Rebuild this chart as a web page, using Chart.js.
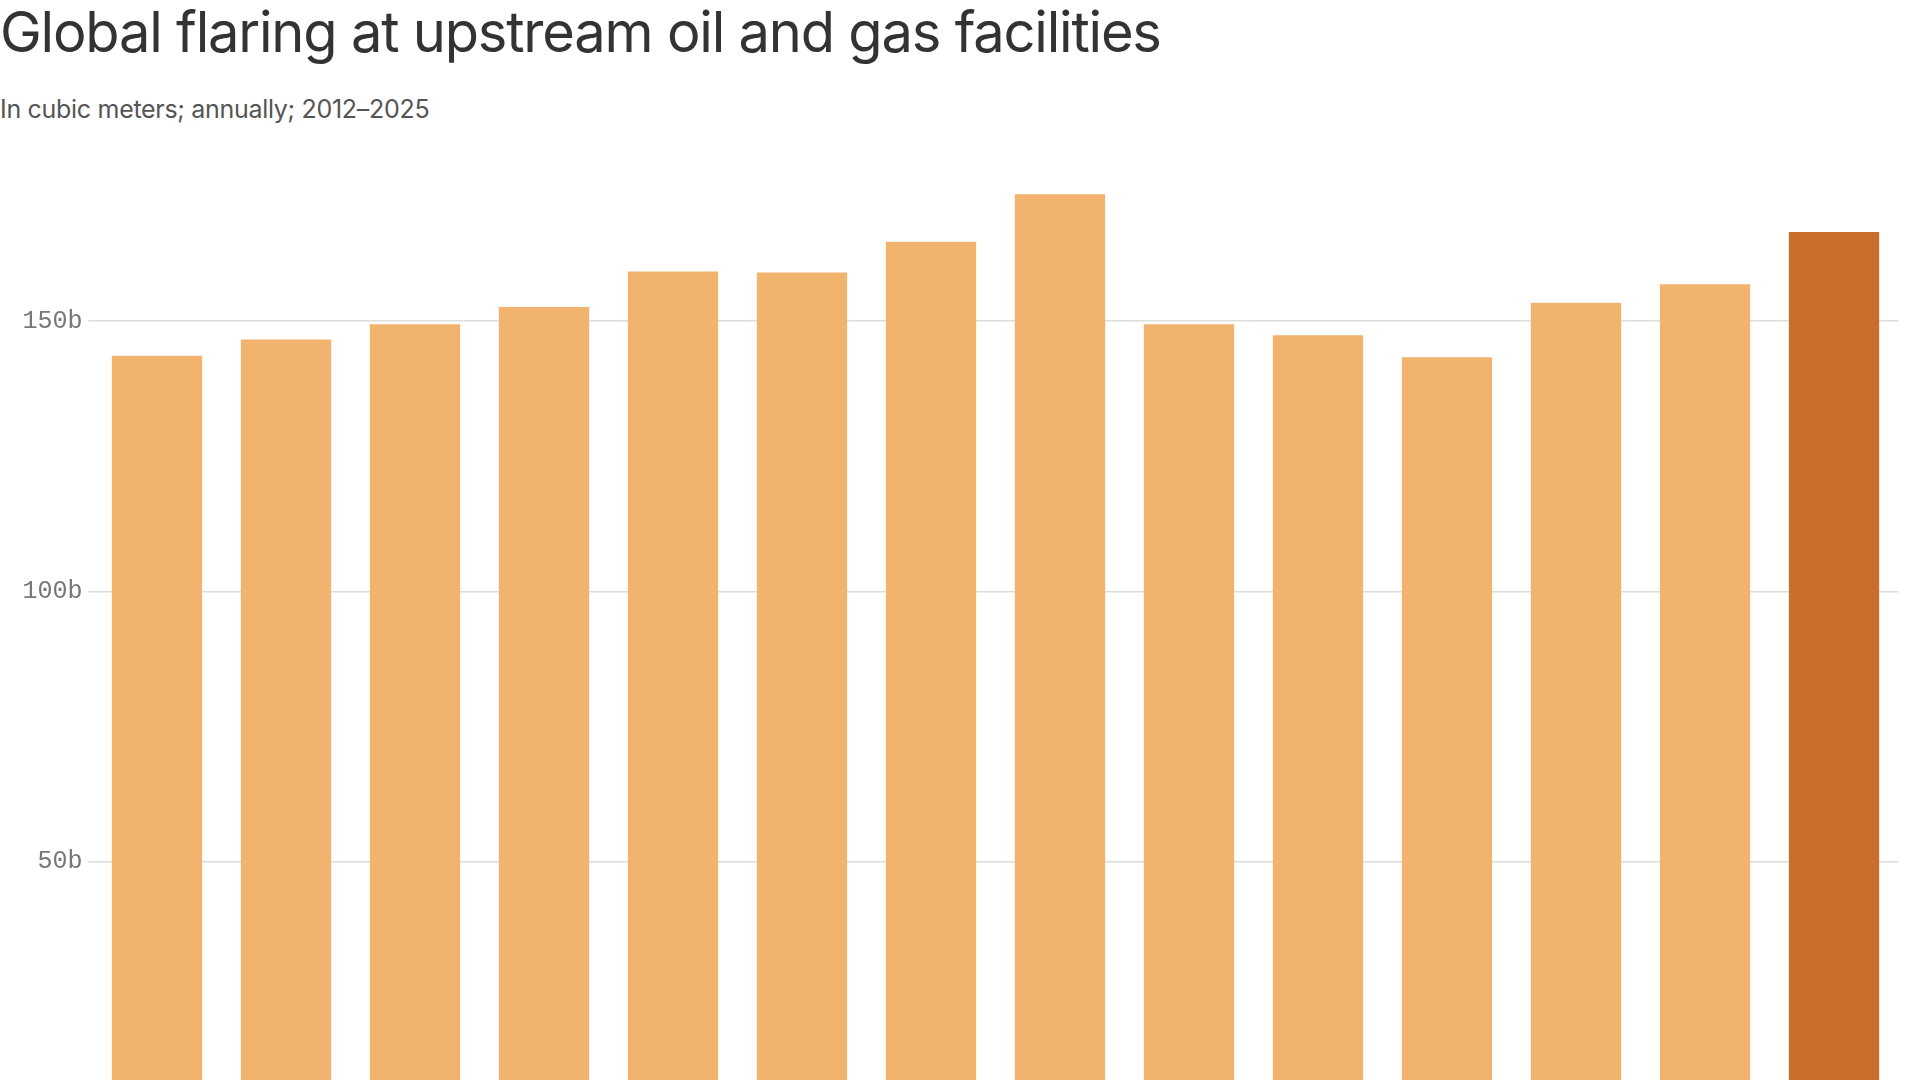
<!DOCTYPE html>
<html>
<head>
<meta charset="utf-8">
<script src="https://cdn.jsdelivr.net/npm/chart.js@4"></script>
<style>
  html, body { margin:0; padding:0; background:#fff; overflow:hidden; width:1920px; height:1080px; }
  #title { position:absolute; left:0; top:4px; font-family:Inter, sans-serif; font-size:56px; font-weight:400; color:#333; letter-spacing:-1.2px; white-space:nowrap; line-height:1; }
  #subtitle { position:absolute; left:0; top:97px; font-family:Inter, sans-serif; font-size:25px; color:#555; white-space:nowrap; letter-spacing:-0.3px; line-height:1; }
  #wrap { position:absolute; left:0; top:137.6px; width:1920px; height:1014.7px; }
</style>
</head>
<body>
<div id="title">Global flaring at upstream oil and gas facilities</div>
<div id="subtitle">In cubic meters; annually; 2012–2025</div>
<div id="wrap"><canvas id="chart"></canvas></div>
<script>
// DATA
const years = ['2012','2013','2014','2015','2016','2017','2018','2019','2020','2021','2022','2023','2024','2025'];
const flaring = [143.6, 146.6, 149.4, 152.6, 159.2, 159.0, 164.7, 173.5, 149.4, 147.4, 143.3, 153.4, 156.8, 166.5];
const yTicks = [50, 100, 150];

const light = '#f2b36e';
const dark = '#ca6e2b';

// CHART
const ctx = document.getElementById('chart');
new Chart(ctx,{
  type:'bar',
  data:{
    labels:years,
    datasets:[{
      data:flaring,
      backgroundColor:years.map((y,i)=> i === years.length-1 ? dark : light),
      borderWidth:0,
      barPercentage:0.7,
      categoryPercentage:1
    }]
  },
  options:{
    responsive:true,
    maintainAspectRatio:false,
    animation:false,
    layout:{padding:{left:0,right:21.5,top:0,bottom:0}},
    plugins:{legend:{display:false},tooltip:{enabled:false}},
    scales:{
      x:{display:false},
      y:{
        min:0,
        max:180,
        border:{display:false},
        grid:{color:'#dddddd',lineWidth:1.5,tickLength:4},
        ticks:{
          stepSize:50,
          padding:6,
          color:'#777',
          font:{family:'Liberation Mono',size:25},
          callback:v => yTicks.includes(v) ? v+'b' : null
        },
        afterFit:s => { s.width = 92.5; }
      }
    }
  }
});
</script>
</body>
</html>
